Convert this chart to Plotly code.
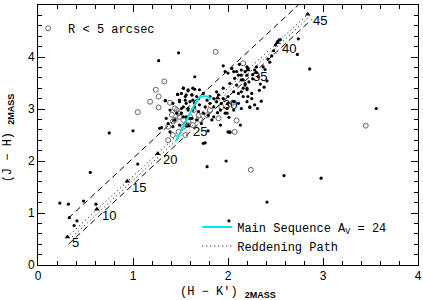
import plotly.graph_objects as go

# ---------------- data ----------------
# filled points (H-K', J-H)
fill_x = [1.48,1.27,1.65,0.75,1.00,2.74,2.73,2.86,3.56,
          0.23,0.32,0.48,0.55,0.33,0.38,0.41,0.61,1.05,
          1.78,1.98,2.41,2.01,2.59,2.98,1.79,2.02,1.76,
          1.30,1.34,1.47,2.23,2.01,1.89,2.00,2.13,1.74,1.28,
          2.42,2.50,2.52,2.54,2.55,2.20,2.21,2.30,2.28,2.37,2.39,2.41,
          2.14,2.18,2.14,2.20,2.16,2.18,2.16,2.20,2.14,
          1.95,2.00,2.06,2.07,2.11,2.14,2.18,2.09,2.02,1.95,2.20,2.25,2.21,2.16,2.11,
          2.06,2.00,1.95,1.90,1.85,1.88,1.93,2.00,2.06,2.11,2.20,2.23,2.14,2.06,1.99,
          1.92,1.97,1.85,1.81,1.78,1.74,1.70,1.63,1.58,1.53,1.51,1.56,1.62,1.67,1.49,
          1.55,1.60,1.65,1.70,1.76,1.53,1.58,1.63,1.69,1.74,1.79,1.51,1.56,1.62,1.67,
          1.72,1.83,1.92,2.02,1.85,1.99,1.88,1.81,
          1.34,1.47,1.53,1.58,1.62,1.65,1.55,1.49,1.56,1.63,1.69,1.51,1.58,1.65,1.46,
          1.53,1.60,1.44,1.49,1.55,1.42,1.39,1.35,1.39,1.42,1.37,
          2.31,2.35,2.28,2.25,2.33,2.38,2.26,2.32,2.44,2.46,2.48,
          1.97,2.09,2.04,2.12,2.26,2.30,2.22,2.34]
fill_y = [4.08,3.93,3.62,2.54,2.58,4.35,4.05,3.77,3.01,
          1.19,1.17,1.23,1.78,0.91,0.76,0.85,1.17,1.94,
          1.89,2.00,1.21,0.85,1.72,1.67,2.58,2.55,2.35,
          2.64,3.16,3.28,3.03,2.84,2.93,2.56,2.69,2.34,2.63,
          3.96,4.23,4.29,4.33,4.33,3.81,3.78,3.81,3.75,3.81,3.76,3.54,
          3.75,3.72,3.65,3.65,3.56,3.46,3.40,3.37,3.33,
          3.83,3.69,3.72,3.59,3.65,3.56,3.49,3.46,3.49,3.40,3.40,3.30,3.24,3.24,3.30,
          3.33,3.24,3.20,3.27,3.20,3.14,3.11,3.11,3.14,3.11,3.14,3.04,3.01,2.98,3.01,
          2.98,2.92,3.04,3.11,3.17,3.30,3.37,3.40,3.37,3.40,3.30,3.27,3.27,3.24,3.17,
          3.17,3.14,3.11,3.08,3.04,3.04,3.01,2.98,2.95,2.92,2.88,2.92,2.85,2.82,2.79,
          2.72,2.79,2.69,2.56,2.85,2.92,3.33,3.24,
          3.16,3.28,3.40,3.35,3.27,3.38,3.24,3.14,3.11,3.17,3.20,3.01,2.98,3.04,2.92,
          2.85,2.82,2.79,2.69,2.72,2.66,2.56,2.82,2.98,3.11,2.72,
          3.01,3.15,3.08,3.20,3.36,3.42,3.58,3.62,3.90,4.02,4.12,
          3.72,3.72,3.78,3.86,3.66,3.70,3.52,3.48]

# open circles: R < 5 arcsec
open_x = [1.05,1.18,1.24,1.27,1.33,1.27,1.39,1.44,1.41,1.48,1.37,1.42,1.53,1.58,1.63,
          1.48,1.55,1.42,1.87,2.16,2.09,1.90,2.07,2.24,3.45,1.37,1.78,1.81,1.71,1.69,
          1.64,1.60,1.57,1.46,1.49,1.53,1.44,2.05,1.93]
open_y = [2.94,3.14,3.37,3.24,3.53,3.03,3.12,3.01,2.89,2.92,2.66,2.76,2.66,2.76,2.69,
          2.56,2.50,2.50,4.10,3.88,2.78,2.82,2.56,1.83,2.68,2.40,2.88,2.98,2.79,2.88,
          2.98,2.85,2.69,2.98,2.85,2.79,2.79,3.12,3.04]

# main sequence reddened by Av = 24
ms_x = [1.453,1.50,1.547,1.59,1.635,1.67,1.69,1.715,1.74,1.79,1.82]
ms_y = [2.385,2.56,2.72,2.88,3.04,3.15,3.21,3.235,3.245,3.24,3.19]

# reddening-path markers (Av = 5 ... 45)
av_x = [0.31,0.62,0.94,1.26,1.58,1.89,2.21,2.52,2.84]
av_y = [0.54,1.07,1.61,2.14,2.68,3.21,3.75,4.28,4.82]
av_lab = ["5","10","15","20","25","30","35","40","45"]

# boundary / reddening lines (start, end)
dash_up_x = [0.32, 2.74];  dash_up_y = [0.90, 5.00]
dash_lo_x = [0.32, 2.88];  dash_lo_y = [0.40, 4.72]
dot_a_x = [0.31, 2.84];    dot_a_y = [0.54, 4.82]
dot_b_x = [0.36, 2.86];    dot_b_y = [0.54, 4.78]

mono = "Liberation Mono"
fig = go.Figure()

for lx, ly in [(dash_up_x, dash_up_y), (dash_lo_x, dash_lo_y)]:
    fig.add_trace(go.Scatter(x=lx, y=ly, mode="lines", showlegend=False,
                             line=dict(color="black", width=1, dash="6px,4px")))
fig.add_trace(go.Scatter(x=dot_a_x, y=dot_a_y, mode="lines", name="Reddening Path",
                         legend="legend2", legendrank=2,
                         line=dict(color="black", width=1, dash="1px,3px")))
fig.add_trace(go.Scatter(x=dot_b_x, y=dot_b_y, mode="lines", showlegend=False,
                         line=dict(color="black", width=1, dash="1px,3px")))

fig.add_trace(go.Scatter(x=open_x, y=open_y, mode="markers", name="R < 5 arcsec",
                         legend="legend",
                         marker=dict(symbol="circle-open", size=5, color="#666",
                                     line=dict(width=1, color="#666"))))
fig.add_trace(go.Scatter(x=fill_x, y=fill_y, mode="markers", showlegend=False,
                         marker=dict(symbol="circle", size=3.2, color="black")))
fig.add_trace(go.Scatter(x=av_x, y=av_y, mode="markers", showlegend=False,
                         marker=dict(symbol="triangle-up", size=5, color="black")))
fig.add_trace(go.Scatter(x=ms_x, y=ms_y, mode="lines", name="Main Sequence A<sub>V</sub> = 24",
                         legend="legend2", legendrank=1,
                         line=dict(color="#00e5e5", width=2)))

for xv, yv, t in zip(av_x, av_y, av_lab):
    fig.add_annotation(x=xv, y=yv, text=t, showarrow=False, xanchor="left", yanchor="middle",
                       xshift=3, yshift=-6,
                       font=dict(family="Liberation Sans", size=13, color="black"))

sub = "<sub><span style='font-family:Liberation Sans;font-weight:bold;font-size:9px'>2MASS</span></sub>"
fig.add_annotation(xref="paper", yref="paper", x=0.5, y=-0.105, text="(H − K′) " + sub,
                   showarrow=False, xanchor="center", yanchor="middle",
                   font=dict(family=mono, size=12, color="black"))
fig.add_annotation(xref="paper", yref="paper", x=-0.077, y=0.49, text="(J − H) " + sub,
                   showarrow=False, xanchor="center", yanchor="middle", textangle=-90,
                   font=dict(family=mono, size=12, color="black"))

axis_common = dict(showline=True, linecolor="black", linewidth=1, mirror="allticks",
                   ticks="inside", ticklen=7, tickcolor="black", showgrid=False,
                   zeroline=False, automargin=False,
                   tickfont=dict(family="Liberation Sans", size=12, color="black"),
                   minor=dict(ticks="inside", ticklen=4, tickcolor="black", dtick=0.2,
                              showgrid=False))
fig.update_xaxes(range=[0, 4], dtick=1, tick0=0, **axis_common)
fig.update_yaxes(range=[0, 5], dtick=1, tick0=0, **axis_common)

fig.update_layout(
    template="none",
    width=423, height=300, margin=dict(l=38, r=5, t=5, b=35, autoexpand=False),
    paper_bgcolor="white", plot_bgcolor="white",
    font=dict(family=mono, size=12, color="black"),
    legend=dict(x=-0.026, y=0.966, xanchor="left", yanchor="top", bgcolor="rgba(0,0,0,0)",
                font=dict(family=mono, size=12), itemwidth=30),
    legend2=dict(x=0.419, y=0.202, xanchor="left", yanchor="top", bgcolor="rgba(0,0,0,0)",
                 font=dict(family=mono, size=12), itemwidth=30),
)
fig.write_html("out.html", post_script="document.body.style.margin='0';",
               config={"displayModeBar": False})
